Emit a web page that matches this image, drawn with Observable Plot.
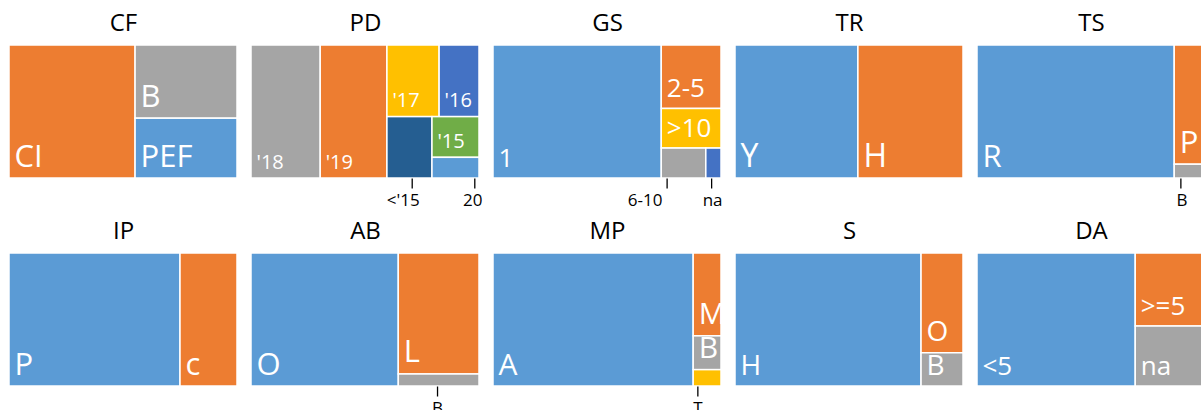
<!DOCTYPE html>
<html><head><meta charset="utf-8">
<script src="https://cdn.jsdelivr.net/npm/d3@7"></script>
<script src="https://cdn.jsdelivr.net/npm/@observablehq/plot@0.6"></script>
<style>
html,body{margin:0;padding:0;background:#fff;overflow:hidden;}
#grid{display:grid;grid-template-columns:repeat(5,242px);grid-auto-rows:208px;width:1210px;}
#grid svg{display:block;overflow:visible;}
</style></head><body><div id="grid"></div>
<script>
// Panel titles
const titles = ["CF","PD","GS","TR","TS","IP","AB","MP","S","DA"];
// Categories per panel
const cellLabels = [
  ["CI","B","PEF"],
  ["'18","'19","'17","'16","<'15","'15","20"],
  ["1","2-5",">10","6-10","na"],
  ["Y","H"],
  ["R","P","B"],
  ["P","c"],
  ["O","L","B"],
  ["A","M","B","T"],
  ["H","O","B"],
  ["<5",">=5","na"]
];
// Shares (%) per panel
const cellValues = [
  [55.3,24.6,20.1],
  [30.3,29.2,12.3,9.4,9.1,6.3,3.2],
  [73.8,12.5,7.8,4.4,1.5],
  [53.9,46.1],
  [86.5,12.1,1.4],
  [75,25],
  [64.6,32.2,3.2],
  [87.8,7.6,3.1,1.5],
  [81.6,13.8,4.6],
  [69.4,16.8,13.8]
];
// Colour keys per panel
const cellColors = [
  ["orange","gray","blue"],
  ["gray","orange","gold","dblue","navy","green","blue"],
  ["blue","orange","gold","gray","dblue"],
  ["blue","orange"],
  ["blue","orange","gray"],
  ["blue","orange"],
  ["blue","orange","gray"],
  ["blue","orange","gray","gold"],
  ["blue","orange","gray"],
  ["blue","orange","gray"]
];
const palette = {blue:"#5B9BD5", orange:"#ED7D31", gray:"#A5A5A5", gold:"#FFC000", dblue:"#4472C4", green:"#70AD47", navy:"#255E91"};
const labelSizes = [31,20,26,32,31,31,31,30,28,26];
// cells labelled outside with a leader line (anchor fraction along cell, text shift)
const callouts = {
  PD: {"<'15": {at:0.55, shift:-9}, "20": {at:0.9, shift:-2}},
  GS: {"6-10": {at:0.12, shift:-22}, "na": {at:0.35, shift:1}},
  TS: {"B": {at:0.2, shift:1}},
  AB: {"B": {at:0.48, shift:0}},
  MP: {"T": {at:0.15, shift:0}}
};
const W = 228, H = 133;
const font = "'Open Sans', sans-serif";
const grid = document.getElementById("grid");

titles.forEach((title, i) => {
  const root = d3.hierarchy({children: cellLabels[i].map((label, j) => ({label, value: cellValues[i][j], color: palette[cellColors[i][j]]}))})
    .sum(d => d.value || 0)
    .sort((a, b) => b.value - a.value);
  d3.treemap().tile(d3.treemapSquarify.ratio(1)).size([W, H]).round(false)(root);
  const cells = root.leaves().map(n => ({label: n.data.label, color: n.data.color, x0: n.x0, x1: n.x1, y0: n.y0, y1: n.y1}));
  const co = callouts[title] || {};
  const inside = cells.filter(c => !(c.label in co));
  const outside = cells.filter(c => c.label in co).map(c => ({...c, ax: c.x0 + (c.x1 - c.x0) * co[c.label].at, shift: co[c.label].shift}));
  const fs = labelSizes[i];
  const chart = Plot.plot({
    width: 242, height: 208,
    marginLeft: 9, marginRight: 5, marginTop: 45, marginBottom: 30,
    x: {domain: [0, W], axis: null},
    y: {domain: [0, H], reverse: true, axis: null},
    color: {type: "identity"},
    style: {fontFamily: font, background: "white"},
    marks: [
      Plot.rect(cells, {x1: "x0", x2: "x1", y1: "y0", y2: "y1", fill: "color", stroke: "white", strokeWidth: 1.5}),
      Plot.text(inside, {x: "x0", y: "y1", text: "label", textAnchor: "start", lineAnchor: "bottom", dx: 5, dy: fs <= 20 ? -10 : -12, fill: "white", fontSize: fs, fontFamily: font}),
      Plot.link(outside, {x1: "ax", x2: "ax", y1: "y1", y2: d => d.y1 + 10, stroke: "black", strokeWidth: 1.3}),
      Plot.text(outside, {x: d => d.ax + d.shift, y: d => d.y1 + 15, text: "label", lineAnchor: "top", fontSize: 17, fill: "black", fontFamily: font}),
      Plot.text([title], {frameAnchor: "top", text: d => d, dy: -22, lineAnchor: "middle", fontSize: 24, fill: "black", fontFamily: font})
    ]
  });
  grid.appendChild(chart);
});
</script></body></html>
